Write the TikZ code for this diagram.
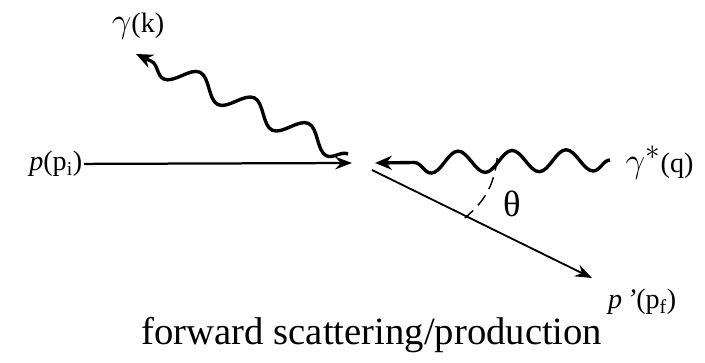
\documentclass[tikz,border=0pt]{standalone}
\usepackage{fontspec}
\setmainfont{Liberation Serif}
\usetikzlibrary{arrows.meta,decorations.pathmorphing}

\tikzset{
  fermion/.style={line width=1.6pt, -{Stealth[length=12pt,width=9pt,inset=4pt]}},
  photon/.style={line width=2.4pt, -{Stealth[length=12pt,width=10pt,inset=4pt]},
    decorate, decoration={snake, amplitude=0.27cm, segment length=1.4cm, post length=0.35cm}},
  lbl/.style={font=\fontsize{20}{24}\selectfont, inner sep=1pt}
}

\begin{document}
\begin{tikzpicture}
  \useasboundingbox (0,0) rectangle (17.625,9.05);
  % labels
  \node[lbl, anchor=east] (pin) at (2.1,4.95) {\textit{p}(p\textsubscript{i})};
  \node[lbl, anchor=east] (pout) at (16.95,1.5) {\textit{p\,’}(p\textsubscript{f})};
  \node[lbl] (gk) at (3.45,8.4) {{\fontsize{28}{30}\selectfont$\gamma$}(k)};
  \node[lbl, anchor=west] (gq) at (15.6,4.98) {{\fontsize{28}{30}\selectfont$\gamma^{*}$}(q)};
  \node[font=\fontsize{26}{28}\selectfont] (th) at (12.8,3.95) {θ};
  \coordinate (vin) at (8.8,4.975);
  \coordinate (vq) at (9.375,4.975);
  \coordinate (vout) at (9.3,4.8);
  \coordinate (fout) at (14.8,2.1);
  \coordinate (gkstart) at (8.7,5.2);
  \coordinate (gkend) at (3.4,7.7);
  \coordinate (gqstart) at (15.25,5.05);
  % lines
  \draw[fermion] (pin) -- (vin);
  \draw[fermion, line width=1.3pt] (vout) -- (fout);
  \draw[photon, decoration={segment length=1.35cm}] (gqstart) -- (vq);
  \draw[photon, decoration={segment length=1.5cm}] (gkstart) -- (gkend);
  \draw[line width=1pt, dash pattern=on 9pt off 5pt] (12.43,5.1) to[bend left=22] (11.62,3.6);
  % caption
  \node[font=\fontsize{27.5}{32}\selectfont] (cap) at (9.3,0.68) {forward scattering/production};
\end{tikzpicture}
\end{document}
